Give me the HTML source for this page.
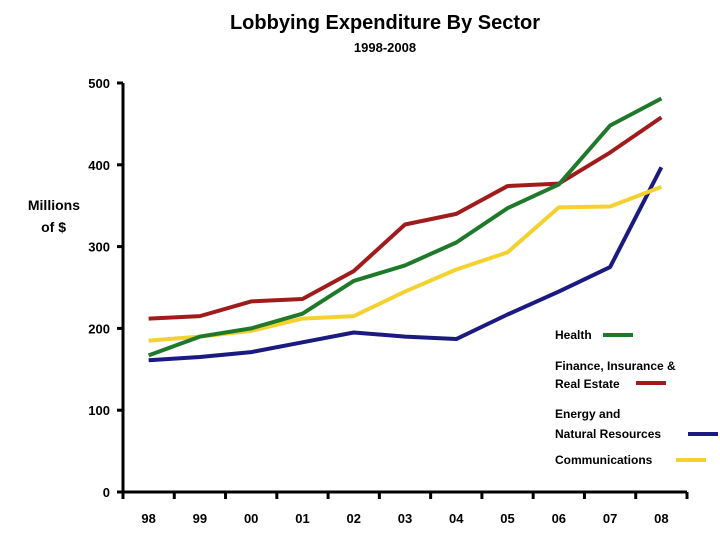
<!DOCTYPE html>
<html><head><meta charset="utf-8"><style>
body{margin:0;background:#fff;width:720px;height:540px;overflow:hidden;font-family:"Liberation Sans",Arial,sans-serif}
</style></head><body>
<svg id="chart" width="720" height="540" xmlns="http://www.w3.org/2000/svg" font-family="Liberation Sans, Arial, sans-serif">
<text x="385" y="29" text-anchor="middle" font-size="20" font-weight="bold">Lobbying Expenditure By Sector</text>
<text x="385" y="52" text-anchor="middle" font-size="13" font-weight="bold">1998-2008</text>
<text x="80" y="210" text-anchor="end" font-size="14" font-weight="bold">Millions</text>
<text x="66" y="232" text-anchor="end" font-size="14" font-weight="bold">of $</text>
<g id="axes"></g><g id="lines"></g>
<g font-size="12" font-weight="bold">
<text x="555" y="339">Health</text><line x1="603" y1="335" x2="633" y2="335" stroke="#1e7a2a" stroke-width="4"/>
<text x="555" y="370">Finance, Insurance &amp;</text>
<text x="555" y="388">Real Estate</text><line x1="636" y1="383" x2="666" y2="383" stroke="#a01c1c" stroke-width="4"/>
<text x="555" y="418">Energy and</text>
<text x="555" y="438">Natural Resources</text><line x1="688" y1="434" x2="718" y2="434" stroke="#1a1a80" stroke-width="4"/>
<text x="555" y="464">Communications</text><line x1="676" y1="460" x2="706" y2="460" stroke="#f5d130" stroke-width="4"/>
</g>
</svg>
<script>
const categories=["98","99","00","01","02","03","04","05","06","07","08"];
const health=[167,190,200,218,258,277,305,347,376,448,481];
const finance=[212,215,233,236,270,327,340,374,377,415,458];
const energy=[161,165,171,183,195,190,187,217,245,275,397];
const comms=[185,190,197,212,215,245,272,293,348,349,373];
const yTicks=[0,100,200,300,400,500];
const NS="http://www.w3.org/2000/svg";
const x0=123,x1=687,yBase=492,yTop=83;
const step=(x1-x0)/categories.length;
const xs=i=>x0+step*(i+0.5);
const ys=v=>yBase-(v/500)*(yBase-yTop);
const axes=document.getElementById('axes'),lines=document.getElementById('lines');
function mk(t,a,p){const e=document.createElementNS(NS,t);for(const k in a)e.setAttribute(k,a[k]);p.appendChild(e);return e;}
let ax=mk('line',{x1:x0,y1:yTop,x2:x0,y2:yBase,stroke:'#000','stroke-width':3},axes);


let bx=mk('line',{x1:x0-2,y1:yBase,x2:x1,y2:yBase,stroke:'#000','stroke-width':3},axes);


yTicks.forEach(v=>{
 mk('line',{x1:x0-6,y1:ys(v),x2:x0,y2:ys(v),stroke:'#000','stroke-width':3},axes);
 const t=mk('text',{x:x0-13,y:ys(v)+5,'text-anchor':'end','font-size':13,'font-weight':'bold'},axes);
 t.textContent=v;
 
 
});
for(let i=0;i<=categories.length;i++){mk('line',{x1:x0+step*i,y1:yBase,x2:x0+step*i,y2:yBase+7,stroke:'#000','stroke-width':3},axes);}
categories.forEach((c,i)=>{
 const t=mk('text',{x:xs(i),y:523,'text-anchor':'middle','font-size':13,'font-weight':'bold'},axes);
 t.textContent=c;
 
 
});
[[energy,'#1a1a80','energy-line'],[comms,'#f5d130','communications-line'],[finance,'#a01c1c','finance-line'],[health,'#1e7a2a','health-line']].forEach(([d,c,n])=>{
 const p=mk('polyline',{points:d.map((v,i)=>xs(i)+','+ys(v)).join(' '),fill:'none',stroke:c,'stroke-width':4,'stroke-linejoin':'round'},lines);
 
 
});
</script>
</body></html>
